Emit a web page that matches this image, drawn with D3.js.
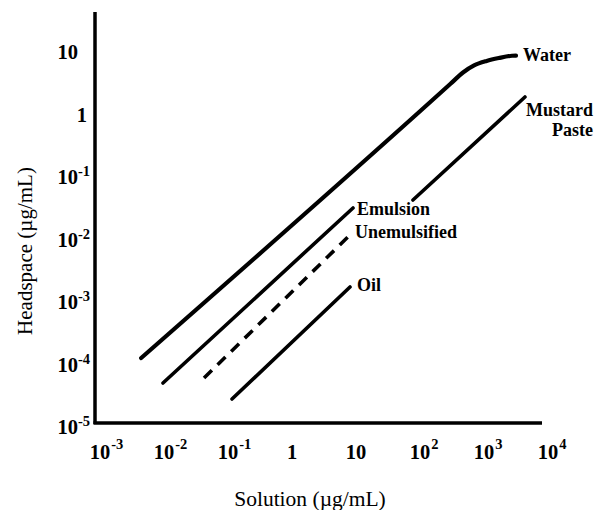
<!DOCTYPE html>
<html><head><meta charset="utf-8">
<script src="https://cdn.jsdelivr.net/npm/d3@7"></script>
<style>body{margin:0;background:#fff}svg{display:block}</style>
</head><body>
<script>
// ---- data ----
const xTickValues = [1e-3, 1e-2, 1e-1, 1, 10, 1e2, 1e3, 1e4];
const xTickBases  = ["10","10","10","1","10","10","10","10"];
const xTickExps   = ["-3","-2","-1","","","2","3","4"];
const yTickValues = [10, 1, 1e-1, 1e-2, 1e-3, 1e-4, 1e-5];
const yTickBases  = ["10","1","10","10","10","10","10"];
const yTickExps   = ["","","-1","-2","-3","-4","-5"];

const waterX = [0.0044, 300, 470, 700, 1100, 1700, 2739, 3160];
const waterY = [1.27e-4, 3.1, 4.7, 6.1, 7.2, 8.0, 8.7, 8.75];
const mustardX = [77.6, 4365];
const mustardY = [0.0428, 1.905];
const emulsionX = [0.00964, 8.98];
const emulsionY = [5.06e-5, 0.0319];
const unemulsifiedX = [0.0422, 8.66];
const unemulsifiedY = [6.08e-5, 0.0127];
const oilX = [0.1155, 8.06];
const oilY = [2.8e-5, 1.74e-3];

const W = 595, H = 510;
const svg = d3.select("body").append("svg").attr("width", W).attr("height", H);
const x = d3.scaleLog().domain([1e-3, 1e4]).range([100, 548]);
const y = d3.scaleLog().domain([1e-5, 10]).range([427, 52]);

// axes frame
svg.append("line").attr("x1", 95).attr("x2", 95).attr("y1", 12).attr("y2", 424)
  .attr("stroke", "#000").attr("stroke-width", 3.5);
svg.append("line").attr("x1", 93.5).attr("x2", 542).attr("y1", 423).attr("y2", 423)
  .attr("stroke", "#000").attr("stroke-width", 3.5);

const tickFont = "'Liberation Serif','Times New Roman',serif";

// x tick labels
xTickValues.forEach((v, i) => {
  const cx = x(v);
  const t = svg.append("text").attr("x", cx).attr("y", 459)
    .attr("text-anchor", "middle").attr("font-family", tickFont)
    .attr("font-weight", "bold").attr("font-size", 20.5).text(xTickBases[i]);
  if (xTickExps[i]) {
    const w = t.node().getComputedTextLength();
    svg.append("text").attr("x", cx + w / 2 + 1).attr("y", 449)
      .attr("font-family", tickFont).attr("font-weight", "bold")
      .attr("font-size", 14.5).text(xTickExps[i]);
  }
});

// y tick labels
yTickValues.forEach((v, i) => {
  const cy = y(v);
  const right = (yTickBases[i] === "1") ? 87 : 78;
  svg.append("text").attr("x", right).attr("y", cy + 7)
    .attr("text-anchor", "end").attr("font-family", tickFont)
    .attr("font-weight", "bold").attr("font-size", 20.5).text(yTickBases[i]);
  if (yTickExps[i]) {
    svg.append("text").attr("x", right).attr("y", cy - 1)
      .attr("font-family", tickFont).attr("font-weight", "bold")
      .attr("font-size", 14.5).text(yTickExps[i]);
  }
});

// axis titles
svg.append("text").attr("x", 310).attr("y", 506).attr("text-anchor", "middle")
  .attr("font-family", tickFont).attr("font-size", 21.5).text("Solution (µg/mL)");
svg.append("text").attr("transform", "translate(32,251) rotate(-90)")
  .attr("text-anchor", "middle").attr("font-family", tickFont)
  .attr("font-size", 21).text("Headspace (µg/mL)");

// series
const series = [
  {name: "water", xs: waterX, ys: waterY, w: 4.2, dash: null, curve: d3.curveMonotoneX},
  {name: "mustard", xs: mustardX, ys: mustardY, w: 3.6, dash: null, curve: d3.curveLinear},
  {name: "emulsion", xs: emulsionX, ys: emulsionY, w: 3.6, dash: null, curve: d3.curveLinear},
  {name: "unemulsified", xs: unemulsifiedX, ys: unemulsifiedY, w: 3.6, dash: "11,8", curve: d3.curveLinear},
  {name: "oil", xs: oilX, ys: oilY, w: 3.6, dash: null, curve: d3.curveLinear}
];
series.forEach(s => {
  const pts = s.xs.map((v, i) => [v, s.ys[i]]);
  const line = d3.line().x(d => x(d[0])).y(d => y(d[1])).curve(s.curve);
  svg.append("path").attr("d", line(pts)).attr("fill", "none")
    .attr("stroke", "#000").attr("stroke-width", s.w)
    .attr("stroke-linecap", s.dash ? "butt" : "round")
    .attr("stroke-linejoin", "round")
    .attr("stroke-dasharray", s.dash);
});

// series labels
function label(txt, px, py, anchor) {
  return svg.append("text").attr("x", px).attr("y", py).attr("dy", "0.35em")
    .attr("text-anchor", anchor || "start").attr("font-family", tickFont)
    .attr("font-weight", "bold").attr("font-size", 18).text(txt);
}
const last = a => a[a.length - 1];
label("Water", x(last(waterX)) + 7, y(last(waterY)) - 1);
const m = label("Mustard", x(last(mustardX)) + 1, y(last(mustardY)) + 13);
const mEnd = x(last(mustardX)) + 1 + m.node().getComputedTextLength();
label("Paste", mEnd, y(last(mustardY)) + 33, "end");
label("Emulsion", x(last(emulsionX)) + 4, y(last(emulsionY)) + 1);
label("Unemulsified", x(last(unemulsifiedX)) + 3, y(last(unemulsifiedY)) - 1);
label("Oil", x(last(oilX)) + 7, y(last(oilY)) - 2);
</script>
</body></html>
